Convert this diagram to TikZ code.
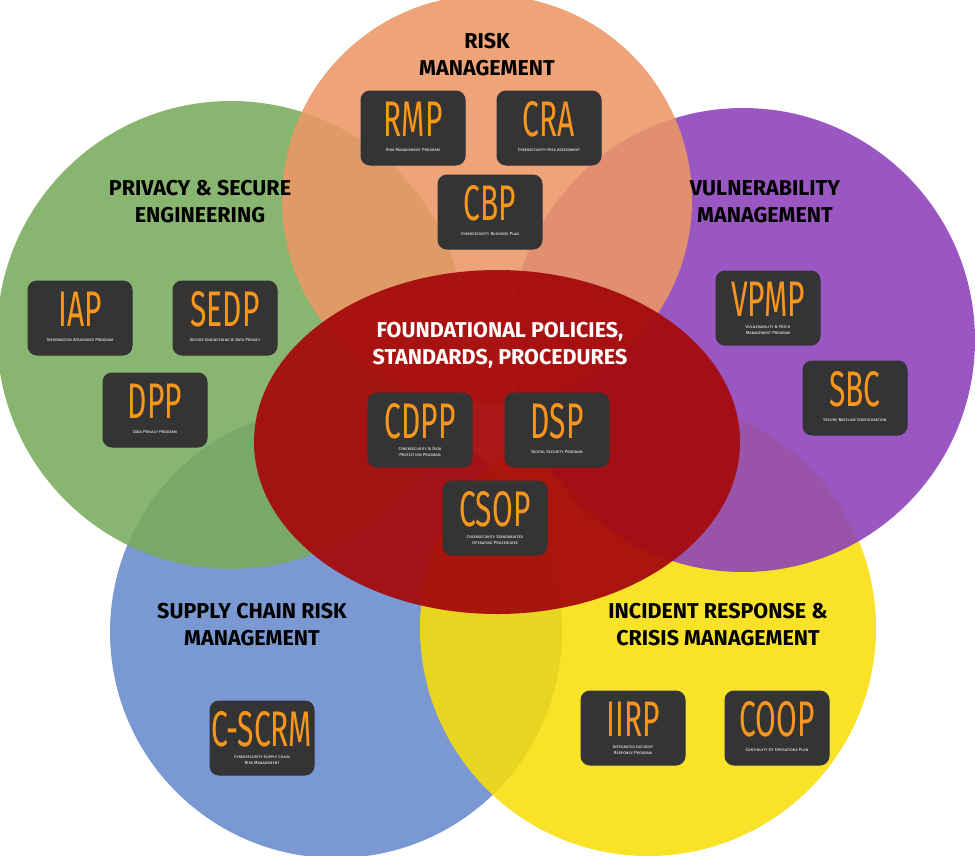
\documentclass[tikz,border=0pt]{standalone}
\usepackage{fontspec}
\setmainfont{Fira Sans}
\usepackage{tikz}

\definecolor{riskc}{RGB}{236,150,102}
\definecolor{privc}{RGB}{120,172,92}
\definecolor{vulnc}{RGB}{140,64,186}
\definecolor{suppc}{RGB}{104,138,204}
\definecolor{incic}{RGB}{248,222,10}
\definecolor{foundc}{RGB}{165,10,12}
\definecolor{boxc}{RGB}{52,52,52}
\definecolor{acrc}{RGB}{248,150,30}

\tikzset{
  area/.style={fill=#1, fill opacity=0.88, draw=none},
  title/.style={font=\fontsize{21.5}{27}\selectfont\bfseries, align=center, text=black},
  prog/.style={draw=black!80, line width=1pt, fill=boxc, rounded corners=9pt,
    minimum width=104pt, minimum height=74pt, inner sep=0pt},
  acr/.style={font=\fontsize{50}{50}\selectfont, text=acrc, inner sep=0pt},
  sub/.style={font=\fontsize{4.4}{6.5}\selectfont\scshape, text=white!85, align=center, inner sep=0pt}
}
\newcommand{\progbox}[4]{%
  \node[prog] (#1) at (#2) {};
  \node[acr] at ([yshift=9pt]#1.center) {\scalebox{0.6}[1]{#3}};
  \node[sub] at ([yshift=-22pt]#1.center) {#4};
}

\begin{document}
\begin{tikzpicture}[x=1pt,y=-1pt]
\useasboundingbox (0,0) rectangle (975,855);

% circles
\fill[area=suppc] (336,632) circle (226);
\fill[area=incic] (648,628) circle (228);
\fill[area=privc] (231,335) circle (234);
\fill[area=vulnc] (743,340) circle (232);
\fill[area=riskc] (487,200) circle (205);
\fill[area=foundc, fill opacity=0.94] (497,442) ellipse (243 and 172);

% titles
\node[title] (riskt) at (487,55) {RISK\\MANAGEMENT};
\node[title] (privt) at (200,202) {PRIVACY \& SECURE\\ENGINEERING};
\node[title] (vulnt) at (765,202) {VULNERABILITY\\MANAGEMENT};
\node[title, text=white] (foundt) at (500,345) {FOUNDATIONAL POLICIES,\\STANDARDS, PROCEDURES};
\node[title] (suppt) at (252,625) {SUPPLY CHAIN RISK\\MANAGEMENT};
\node[title] (incit) at (718,625) {INCIDENT RESPONSE \&\\CRISIS MANAGEMENT};

% programs
\progbox{rmp}{413,128}{RMP}{Risk Management Program}
\progbox{cra}{549,128}{CRA}{Cybersecurity Risk Assessment}
\progbox{cbp}{490,212}{CBP}{Cybersecurity Business Plan}
\progbox{iap}{80,318}{IAP}{Information Assurance Program}
\progbox{sedp}{225,318}{SEDP}{Secure Engineering \& Data Privacy}
\progbox{dpp}{155,410}{DPP}{Data Privacy Program}
\progbox{vpmp}{768,308}{VPMP}{Vulnerability \& Patch\\Management Program}
\progbox{sbc}{855,398}{SBC}{Secure Baseline Configuration}
\progbox{cdpp}{420,430}{CDPP}{Cybersecurity \& Data\\Protection Program}
\progbox{dsp}{557,430}{DSP}{Digital Security Program}
\progbox{csop}{495,518}{CSOP}{Cybersecurity Standardized\\Operating Procedures}
\progbox{cscrm}{262,738}{C-SCRM}{Cybersecurity Supply Chain\\Risk Management}
\progbox{iirp}{633,728}{IIRP}{Integrated Incident\\Response Program}
\progbox{coop}{777,728}{COOP}{Continuity Of Operations Plan}

\end{tikzpicture}
\end{document}
